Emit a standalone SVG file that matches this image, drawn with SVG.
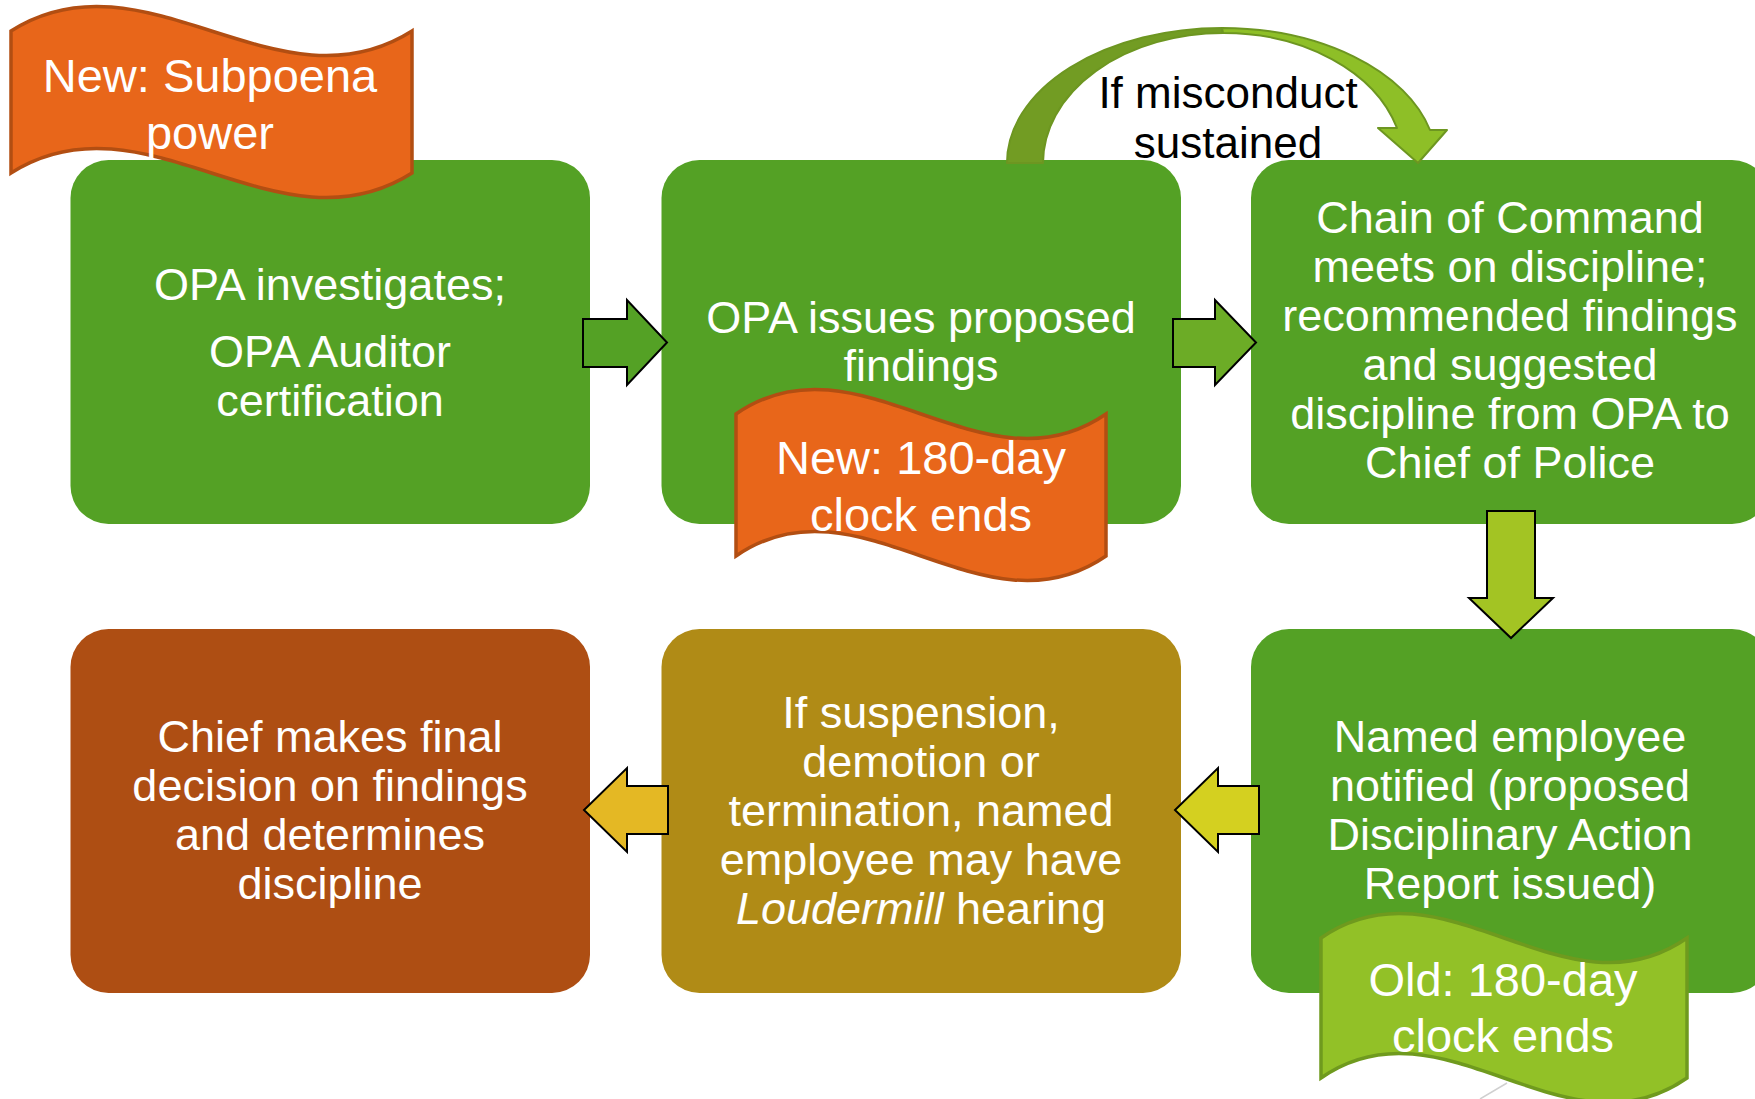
<svg xmlns="http://www.w3.org/2000/svg" width="1755" height="1099" viewBox="0 0 1755 1099">
<style>
.t{font-family:"Liberation Sans",Arial,sans-serif;font-size:45px;fill:#ffffff;text-anchor:middle}
.bt{font-size:47px}
.lbl{font-family:"Liberation Sans",Arial,sans-serif;font-size:44px;fill:#000000;text-anchor:middle}
.green{fill:#54A125}
.arrow{stroke:#000000;stroke-width:2;stroke-linejoin:miter}
.orange{fill:#E8661A;stroke:#B24E12;stroke-width:3.5}
.lime{fill:#92C127;stroke:#6F9A1E;stroke-width:3.5}
</style>
<rect width="1755" height="1099" fill="#ffffff"/>

<g id="node-opa-investigates">
<rect class="green" x="70.5" y="160" width="519.5" height="364" rx="38"/>
<text class="t" x="330" y="300">OPA investigates;</text>
<text class="t" x="330" y="367">OPA Auditor</text>
<text class="t" x="330" y="416">certification</text>
</g>

<g id="node-opa-issues">
<rect class="green" x="661.5" y="160" width="519.5" height="364" rx="38"/>
<text class="t" x="921" y="333">OPA issues proposed</text>
<text class="t" x="921" y="381">findings</text>
</g>

<g id="node-chain-of-command">
<rect class="green" x="1251" y="160" width="519" height="364" rx="38"/>
<text class="t" x="1510" y="233">Chain of Command</text>
<text class="t" x="1510" y="282">meets on discipline;</text>
<text class="t" x="1510" y="331">recommended findings</text>
<text class="t" x="1510" y="380">and suggested</text>
<text class="t" x="1510" y="429">discipline from OPA to</text>
<text class="t" x="1510" y="478">Chief of Police</text>
</g>

<g id="node-named-employee">
<rect class="green" x="1251" y="629" width="519" height="364" rx="38"/>
<text class="t" x="1510" y="752">Named employee</text>
<text class="t" x="1510" y="801">notified (proposed</text>
<text class="t" x="1510" y="850">Disciplinary Action</text>
<text class="t" x="1510" y="899">Report issued)</text>
</g>

<g id="node-loudermill">
<rect x="661.5" y="629" width="519.5" height="364" rx="38" fill="#B08B16"/>
<text class="t" x="921" y="728">If suspension,</text>
<text class="t" x="921" y="777">demotion or</text>
<text class="t" x="921" y="826">termination, named</text>
<text class="t" x="921" y="875">employee may have</text>
<text class="t" x="921" y="924"><tspan font-style="italic">Loudermill</tspan> hearing</text>
</g>

<g id="node-chief-decision">
<rect x="70.5" y="629" width="519.5" height="364" rx="38" fill="#AE4E13"/>
<text class="t" x="330" y="752">Chief makes final</text>
<text class="t" x="330" y="801">decision on findings</text>
<text class="t" x="330" y="850">and determines</text>
<text class="t" x="330" y="899">discipline</text>
</g>

<g id="connectors">
<path class="arrow" fill="#54A125" d="M583,319 L627,319 L627,300 L667,342.5 L627,385 L627,367 L583,367 Z"/>
<path class="arrow" fill="#6CAC26" d="M1173,319 L1215,319 L1215,300 L1256,342.5 L1215,385 L1215,367 L1173,367 Z"/>
<path class="arrow" fill="#A3C423" d="M1487,511 L1535,511 L1535,598 L1553,598 L1511,638 L1469,598 L1487,598 Z"/>
<path class="arrow" fill="#D4D020" d="M1259,786 L1218,786 L1218,768 L1175,810 L1218,852 L1218,834 L1259,834 Z"/>
<path class="arrow" fill="#E4B824" d="M668,786 L627,786 L627,768 L584,810 L627,852 L627,834 L668,834 Z"/>
<g id="curved-arrow" stroke="#6D9621" stroke-width="2" stroke-linejoin="round">
<path fill="#729C23" d="M1007,163 A215,135 0 0 1 1222,28 L1223,33 A180,130 0 0 0 1043,163 Z"/>
<path fill="#8EBF27" d="M1222,28 A215,135 0 0 1 1430,130 L1447,130 L1418,163 L1378,128 L1397,128 A180,130 0 0 0 1223,33 Z"/>
</g>
<text class="lbl" x="1228" y="108">If misconduct</text>
<text class="lbl" x="1228" y="158">sustained</text>
<line x1="1480" y1="1099" x2="1507" y2="1083" stroke="#d0d0d0" stroke-width="1.5"/>
</g>

<g id="banner-subpoena">
<path class="orange" d="M11,31 C145,-54 278,116 412,31 L412,173 C278,258 145,88 11,173 Z"/>
<text class="t bt" x="210" y="92">New: Subpoena</text>
<text class="t bt" x="210" y="149">power</text>
</g>

<g id="banner-new-clock">
<path class="orange" d="M736,414 C859,329 983,499 1106,414 L1106,556 C983,641 859,471 736,556 Z"/>
<text class="t bt" x="921" y="474">New: 180-day</text>
<text class="t bt" x="921" y="531">clock ends</text>
</g>

<g id="banner-old-clock">
<path class="lime" d="M1321,938 C1443,853 1565,1023 1687,938 L1687,1078 C1565,1163 1443,993 1321,1078 Z"/>
<text class="t bt" x="1503" y="996">Old: 180-day</text>
<text class="t bt" x="1503" y="1052">clock ends</text>
</g>
</svg>
